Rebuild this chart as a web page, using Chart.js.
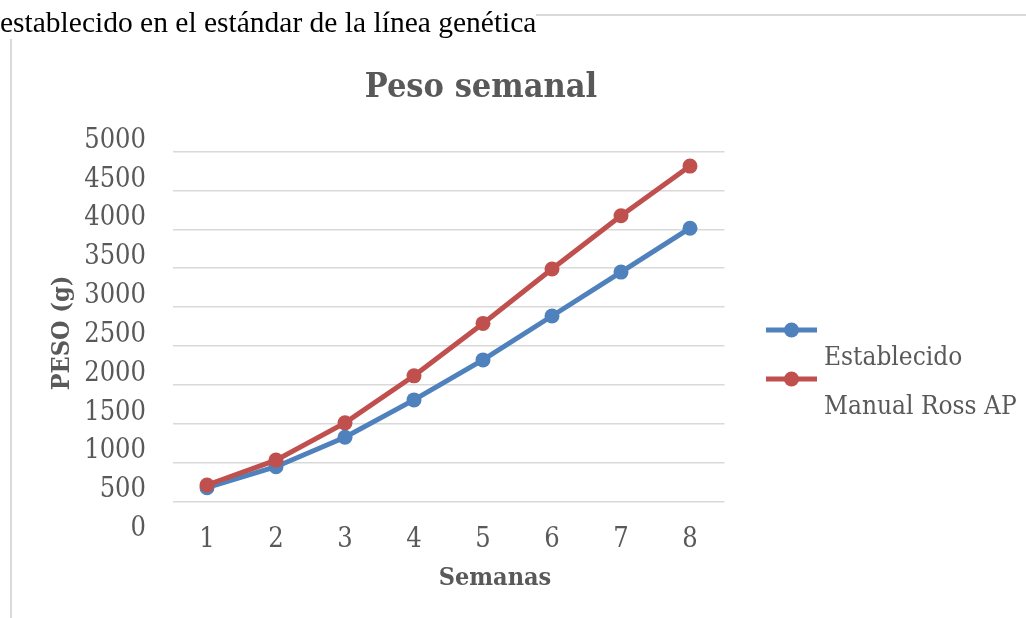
<!DOCTYPE html>
<html>
<head>
<meta charset="utf-8">
<script src="https://cdn.jsdelivr.net/npm/chart.js@4.4.1/dist/chart.umd.min.js"></script>
<style>
  html, body { margin: 0; padding: 0; background: #fff; }
  body { width: 1026px; height: 618px; position: relative; overflow: hidden; }
  #hline { position: absolute; left: 0; top: 14px; width: 1026px; height: 2px; background: #dadada; }
  #vline { position: absolute; left: 10px; top: 14px; width: 2px; height: 604px; background: #dadada; }
  #caption { position: absolute; left: 0; top: 5px; font: 29.5px "Liberation Serif", "Times New Roman", serif;
             line-height: 34px; color: #000; background: #fff; white-space: nowrap; }
  #chart { position: absolute; left: 0; top: 0; }
</style>
</head>
<body>
<div id="hline"></div>
<div id="vline"></div>
<canvas id="chart" width="1026" height="618"></canvas>
<div id="caption">establecido en el estándar de la línea genética</div>
<script>
// data (g)
const weeks = ["1", "2", "3", "4", "5", "6", "7", "8"];
const establecido = [175, 445, 825, 1305, 1820, 2385, 2950, 3515];
const manualRossAP = [210, 530, 1010, 1615, 2290, 2990, 3675, 4315];
const yTickLabels = ["0", "500", "1000", "1500", "2000", "2500", "3000", "3500", "4000", "4500", "5000"];

const chartTitle = "Peso semanal";
const xTitle = "Semanas";
const yTitle = "PESO (g)";

const grey = "#595959";
const serif = '"DejaVu Serif Condensed", "DejaVu Serif", serif';

// titles and the Excel style legend (marker row above its text)
const excelText = {
    id: "excelText",
    afterDraw(chart) {
        const ctx = chart.ctx;
        ctx.save();
        ctx.fillStyle = grey;
        ctx.textAlign = "center";
        ctx.textBaseline = "alphabetic";
        ctx.font = "bold 34px " + serif;
        ctx.fillText(chartTitle, 481, 97);
        ctx.font = "bold 25px " + serif;
        ctx.fillText(xTitle, 495, 585);
        ctx.save();
        ctx.translate(62, 333);
        ctx.rotate(-Math.PI / 2);
        ctx.textBaseline = "middle";
        ctx.fillText(yTitle, 0, 0);
        ctx.restore();

        ctx.font = "26px " + serif;
        ctx.textAlign = "left";
        ctx.textBaseline = "middle";
        chart.data.datasets.forEach((ds, i) => {
            const y = 330 + i * 49;
            ctx.strokeStyle = ds.borderColor;
            ctx.lineWidth = 5;
            ctx.beginPath();
            ctx.moveTo(766, y);
            ctx.lineTo(817, y);
            ctx.stroke();
            ctx.fillStyle = ds.borderColor;
            ctx.beginPath();
            ctx.arc(791.5, y, 7.5, 0, Math.PI * 2);
            ctx.fill();
            ctx.fillStyle = grey;
            ctx.fillText(ds.label, 824, y + 28);
        });
        ctx.restore();
    }
};

const ctx = document.getElementById("chart").getContext("2d");
new Chart(ctx, {
    type: "line",
    data: {
        labels: weeks,
        datasets: [{
            label: "Establecido",
            data: establecido,
            borderColor: "#4f81bd",
            backgroundColor: "#4f81bd",
            pointBackgroundColor: "#4f81bd",
            borderWidth: 5,
            pointRadius: 7.5,
            pointBorderWidth: 0,
            tension: 0,
            order: 1
        }, {
            label: "Manual Ross AP",
            data: manualRossAP,
            borderColor: "#c0504d",
            backgroundColor: "#c0504d",
            pointBackgroundColor: "#c0504d",
            borderWidth: 5,
            pointRadius: 7.5,
            pointBorderWidth: 0,
            tension: 0,
            order: 0
        }]
    },
    options: {
        responsive: false,
        animation: false,
        devicePixelRatio: 1,
        layout: {
            padding: { left: 0, top: 151.7, right: 301.5, bottom: 66.7 }
        },
        plugins: {
            legend: { display: false },
            tooltip: { enabled: false }
        },
        scales: {
            x: {
                offset: true,
                grid: { display: false },
                border: { display: false },
                ticks: {
                    color: grey,
                    font: { family: serif, size: 27 },
                    padding: 14
                },
                afterFit: function (scale) { scale.height = 50; }
            },
            y: {
                min: 0,
                max: 4500,
                grid: {
                    color: (c) => (c.tick && c.tick.value < 0 ? "rgba(0,0,0,0)" : "#d9d9d9"),
                    lineWidth: 1.5,
                    drawTicks: false
                },
                border: { display: false },
                ticks: {
                    autoSkip: false,
                    color: grey,
                    font: { family: serif, size: 27 },
                    padding: 26.5,
                    labelOffset: -11,
                    callback: function (value, index) { return yTickLabels[index]; }
                },
                // the labels sit one step below the gridlines, as in the original
                afterBuildTicks: function (axis) {
                    axis.ticks = yTickLabels.map((t, i) => ({ value: (i - 1) * 500 }));
                },
                afterFit: function (scale) { scale.width = 172.5; }
            }
        }
    },
    plugins: [excelText]
});
</script>
</body>
</html>
